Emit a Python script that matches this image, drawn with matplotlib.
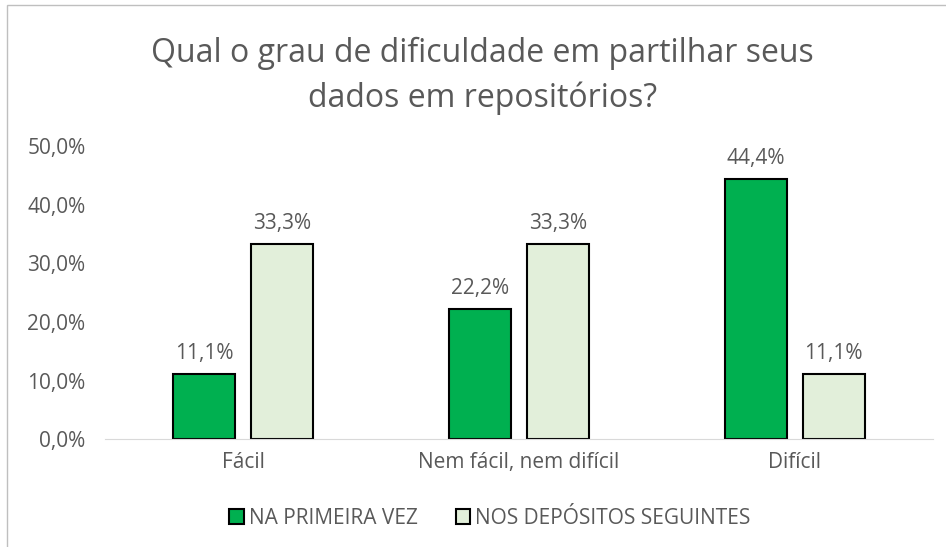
import matplotlib.pyplot as plt
import numpy as np
from matplotlib.patches import Rectangle

categorias = ["Fácil", "Nem fácil, nem difícil", "Difícil"]
primeira_vez = [0.111, 0.222, 0.444]
seguintes = [0.333, 0.333, 0.111]
rotulos_primeira = ["11,1%", "22,2%", "44,4%"]
rotulos_seguintes = ["33,3%", "33,3%", "11,1%"]
ticks_y = [0.0, 0.1, 0.2, 0.3, 0.4, 0.5]
rotulos_y = ["0,0%", "10,0%", "20,0%", "30,0%", "40,0%", "50,0%"]

plt.rcParams['font.family'] = ['Open Sans', 'DejaVu Sans']
cinza = "#595959"

fig = plt.figure(figsize=(9.46, 5.47), dpi=100)
ax = fig.add_axes([0.111, 0.197, 0.875, 0.536])

x = np.arange(len(categorias))
larg = 0.225
b1 = ax.bar(x - 0.141, primeira_vez, larg, color="#00B050", edgecolor="black", linewidth=1.5,
            label="NA PRIMEIRA VEZ")
b2 = ax.bar(x + 0.141, seguintes, larg, color="#E2EFDA", edgecolor="black", linewidth=1.5,
            label="NOS DEPÓSITOS SEGUINTES")
ax.bar_label(b1, labels=rotulos_primeira, padding=7, fontsize=15, color=cinza)
ax.bar_label(b2, labels=rotulos_seguintes, padding=7, fontsize=15, color=cinza)

ax.set_xlim(-0.5, 2.5)
ax.set_ylim(0, 0.5)
ax.set_yticks(ticks_y)
ax.set_yticklabels(rotulos_y)
ax.set_xticks(x)
ax.set_xticklabels(categorias)
ax.tick_params(length=0, labelsize=15, colors=cinza)
ax.tick_params(axis="y", pad=14)
ax.tick_params(axis="x", pad=9)
for s in ["top", "right", "left"]:
    ax.spines[s].set_visible(False)
ax.spines["bottom"].set_color("#D9D9D9")

fig.text(0.51, 0.862, "Qual o grau de dificuldade em partilhar seus\ndados em repositórios?",
         ha="center", va="center", fontsize=23, color=cinza, linespacing=1.45)

fig.legend(loc="center", bbox_to_anchor=(0.518, 0.053), ncol=2, frameon=False,
           fontsize=15, labelcolor=cinza, handlelength=0.7, handleheight=0.7,
           handletextpad=0.25, columnspacing=1.8)

fig.patches.append(Rectangle((0.007, -0.01), 1.1, 1.0, transform=fig.transFigure,
                             fill=False, edgecolor="#BFBFBF", linewidth=1))

fig.savefig("out.png", dpi=100)
